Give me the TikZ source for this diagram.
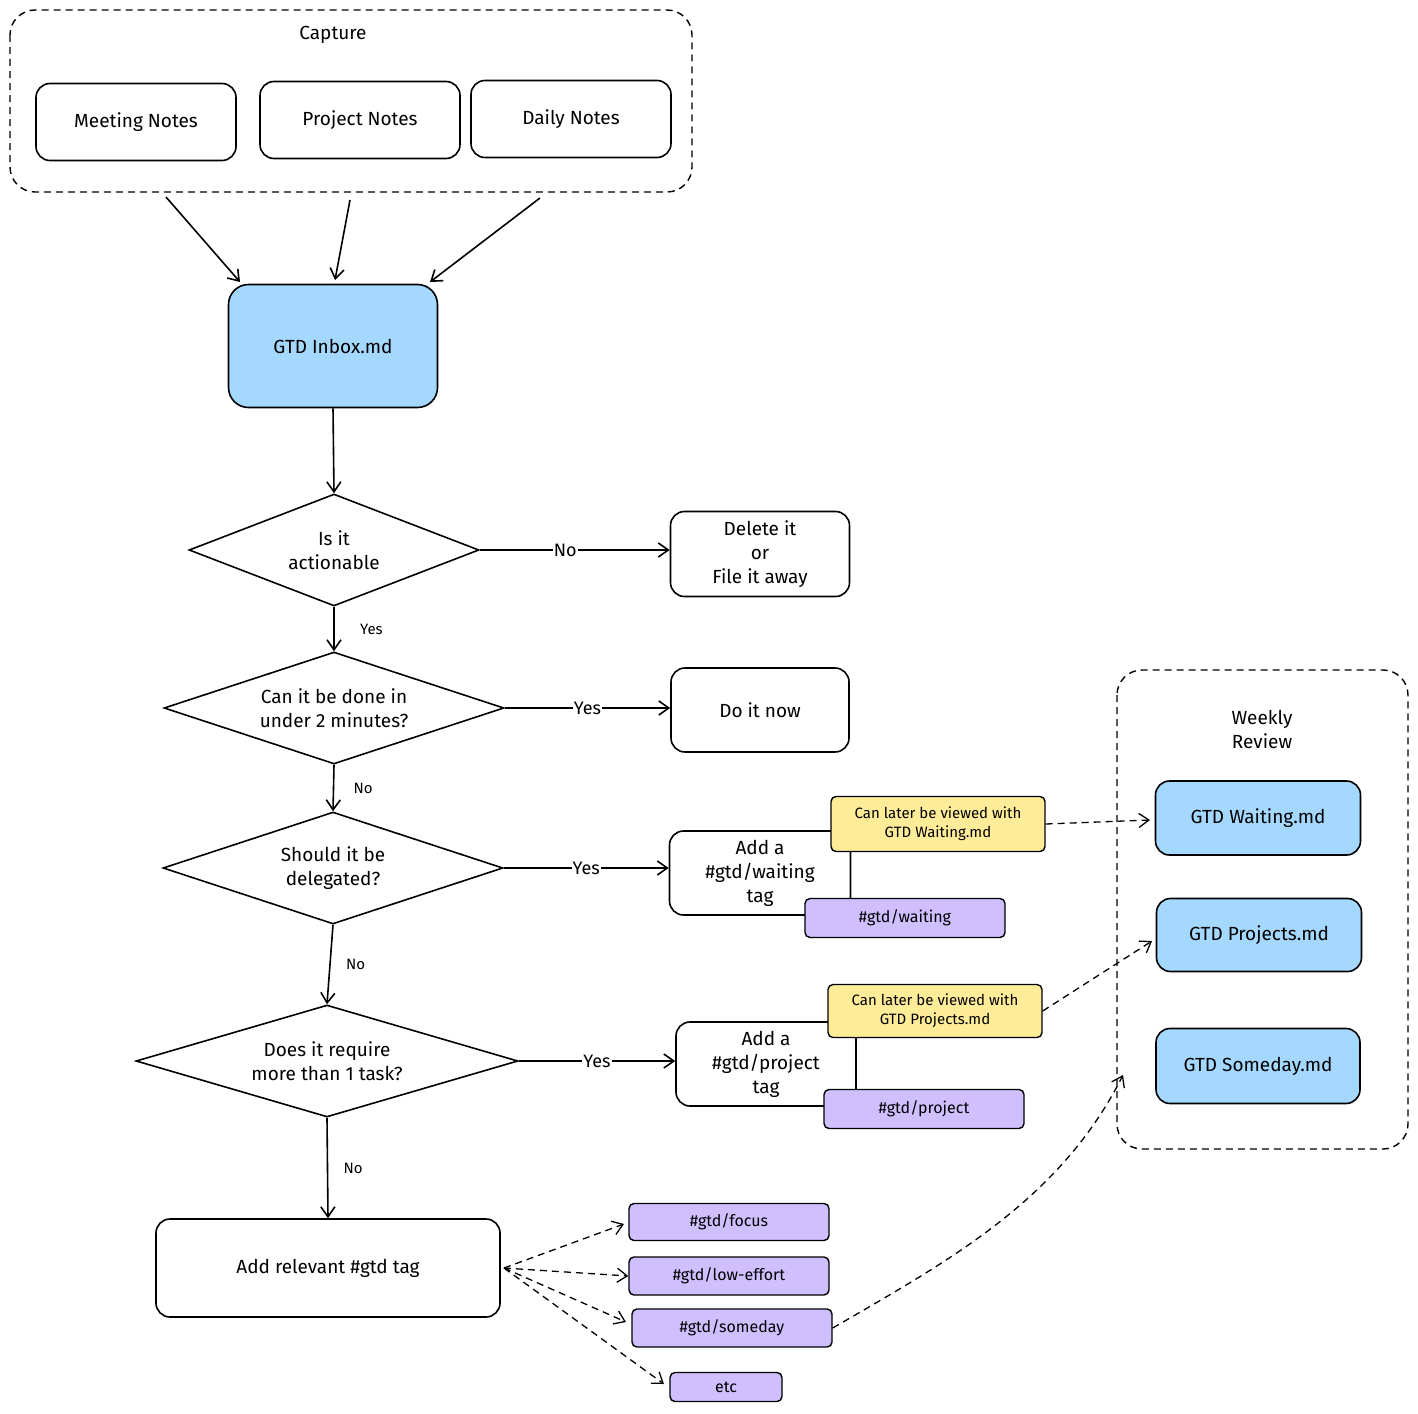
\documentclass[tikz,border=0pt]{standalone}
\usepackage{fontspec}
\setmainfont{Fira Sans}
\usetikzlibrary{shapes.geometric,arrows.meta}
\definecolor{blu}{HTML}{A5D8FF}
\definecolor{yel}{HTML}{FFEC99}
\definecolor{pur}{HTML}{D0BFFF}
\tikzset{
 x=1pt,y=-1pt,
 every node/.style={font=\fontsize{19}{24}\selectfont, align=center},
 box/.style={draw, line width=1.6pt, rounded corners=14pt, inner sep=0},
 dia/.style={draw, line width=1.6pt, diamond, aspect=3, inner sep=0},
 tag/.style={draw, line width=1.4pt, rounded corners=5pt, fill=pur, inner sep=0, font=\fontsize{16}{19}\selectfont},
 note/.style={draw, line width=1.4pt, rounded corners=5pt, fill=yel, inner sep=0, font=\fontsize{15}{19}\selectfont},
 grp/.style={draw, line width=1.4pt, dash pattern=on 7pt off 5pt, rounded corners=25pt},
 arr/.style={-{Straight Barb[length=10pt,width=14pt]}, line width=1.6pt},
 darr/.style={arr, line width=1.3pt, dash pattern=on 7pt off 5pt},
 lbl/.style={fill=white, inner sep=1pt, font=\fontsize{18}{22}\selectfont},
 slbl/.style={font=\fontsize{15}{18}\selectfont, anchor=west}
}
\begin{document}
\begin{tikzpicture}
\useasboundingbox (0,0) rectangle (1418,1413);
% Capture group
\draw[grp] (10,10) rectangle (692,192);
\node (cap) at (333,35) {Capture};
\node[box, minimum width=200, minimum height=77] (mn) at (136,122) {Meeting Notes};
\node[box, minimum width=200, minimum height=77] (pn) at (360,120) {Project Notes};
\node[box, minimum width=200, minimum height=77] (dn) at (571,119) {Daily Notes};
\coordinate (c1) at (166,197); \coordinate (c2) at (350,200); \coordinate (c3) at (540,198);
\node[box, fill=blu, minimum width=209, minimum height=123, rounded corners=20pt] (inbox) at (333,346) {GTD Inbox.md};
\draw[arr] (c1) -- (240,282);
\draw[arr] (c2) -- (335,280);
\draw[arr] (c3) -- (430,282);
% decisions
\node[dia, minimum width=290, minimum height=112] (d1) at (334,550) {Is it\\actionable};
\node[dia, minimum width=340, minimum height=112] (d2) at (334,708) {Can it be done in\\under 2 minutes?};
\node[dia, minimum width=340, minimum height=112] (d3) at (333,868) {Should it be\\delegated?};
\node[dia, minimum width=382, minimum height=112] (d4) at (327,1061) {Does it require\\more than 1 task?};
\node[box, minimum width=344, minimum height=98] (rel) at (328,1268) {Add relevant \#gtd tag};
\draw[arr] (inbox.south) -- (d1.north);
\draw[arr] (d1.south) -- (d2.north) node[slbl, midway, xshift=22pt] {Yes};
\draw[arr] (d2.south) -- (d3.north) node[slbl, midway, xshift=16pt] {No};
\draw[arr] (d3.south) -- (d4.north) node[slbl, midway, xshift=12pt] {No};
\draw[arr] (d4.south) -- (rel.north) node[slbl, midway, xshift=12pt] {No};
% right boxes
\node[box, minimum width=179, minimum height=85] (del) at (760,554) {Delete it\\or\\File it away};
\node[box, minimum width=178, minimum height=84] (now) at (760,710) {Do it now};
\node[box, minimum width=181, minimum height=84] (wait) at (760,873) {Add a\\\#gtd/waiting\\tag};
\node[box, minimum width=180, minimum height=84] (proj) at (766,1064) {Add a\\\#gtd/project\\tag};
\draw[arr] (d1.east) -- (d1.east -| del.west) node[lbl, pos=0.45] {No};
\draw[arr] (d2.east) -- (d2.east -| now.west) node[lbl, pos=0.5] {Yes};
\draw[arr] (d3.east) -- (d3.east -| wait.west) node[lbl, pos=0.5] {Yes};
\draw[arr] (d4.east) -- (d4.east -| proj.west) node[lbl, pos=0.5] {Yes};
\node[note, minimum width=214, minimum height=55] (n1) at (938,824) {Can later be viewed with\\GTD Waiting.md};
\node[tag, minimum width=200, minimum height=39] (tw) at (905,918) {\#gtd/waiting};
\node[note, minimum width=214, minimum height=53] (n2) at (935,1011) {Can later be viewed with\\GTD Projects.md};
\node[tag, minimum width=200, minimum height=39] (tp) at (924,1109) {\#gtd/project};
% tags
\node[tag, minimum width=200, minimum height=37] (t1) at (729,1222) {\#gtd/focus};
\node[tag, minimum width=200, minimum height=38] (t2) at (729,1276) {\#gtd/low-effort};
\node[tag, minimum width=200, minimum height=38] (t3) at (732,1328) {\#gtd/someday};
\node[tag, minimum width=112, minimum height=29] (t4) at (726,1387) {etc};
\coordinate (r) at (504,1268);
\draw[darr] (r) -- (624,1224);
\draw[darr] (r) -- (t2.west);
\draw[darr] (r) -- (626,1322);
\draw[darr] (r) -- (664,1384);
% weekly review
\draw[grp] (1117,670) rectangle (1408,1149);
\node (wr) at (1262,729) {Weekly\\Review};
\node[box, fill=blu, minimum width=205, minimum height=74] (gw) at (1258,818) {GTD Waiting.md};
\node[box, fill=blu, minimum width=205, minimum height=73] (gp) at (1259,935) {GTD Projects.md};
\node[box, fill=blu, minimum width=204, minimum height=75] (gs) at (1258,1066) {GTD Someday.md};
\draw[darr] (n1.east) -- (1150,820);
\draw[darr] (n2.east) -- (1152,941);
\draw[darr] (t3.east) .. controls (950,1260) and (1060,1200) .. (1123,1075);
\end{tikzpicture}
\end{document}
